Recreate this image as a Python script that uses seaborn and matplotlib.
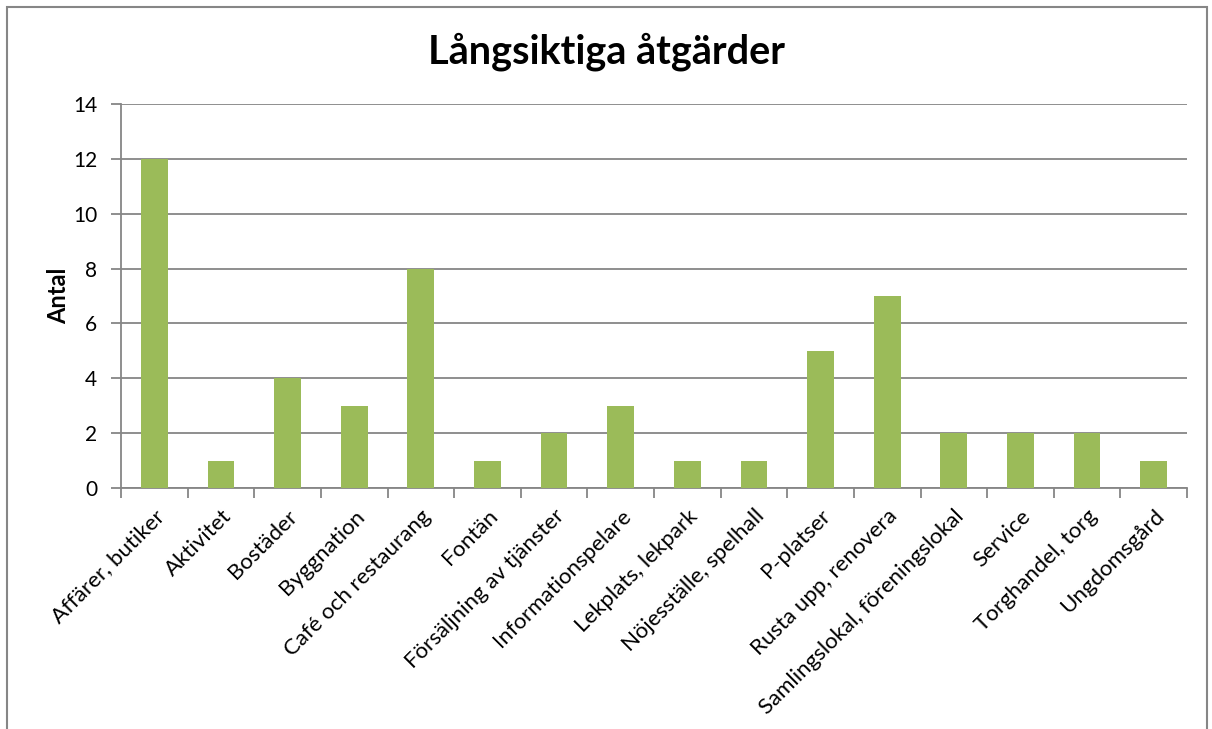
import matplotlib
matplotlib.use("Agg")
import matplotlib.pyplot as plt
import seaborn as sns
import pandas as pd
from matplotlib.patches import Rectangle

categories = ["Affärer, butiker", "Aktivitet", "Bostäder", "Byggnation",
              "Café och restaurang", "Fontän", "Försäljning av tjänster",
              "Informationspelare", "Lekplats, lekpark", "Nöjesställe, spelhall",
              "P-platser", "Rusta upp, renovera", "Samlingslokal, föreningslokal",
              "Service", "Torghandel, torg", "Ungdomsgård"]
values = [12, 1, 4, 3, 8, 1, 2, 3, 1, 1, 5, 7, 2, 2, 2, 1]
yticks = [0, 2, 4, 6, 8, 10, 12, 14]
title = "Långsiktiga åtgärder"
ylabel = "Antal"

df = pd.DataFrame({"cat": categories, "val": values})

sns.set_theme(style="white")
plt.rcParams["font.family"] = ["Lato", "DejaVu Sans"]

fig = plt.figure(figsize=(12.12, 7.29), dpi=100)
ax = fig.add_axes([121/1212, 1-488/729, (1187-121)/1212, (488-104)/729])

sns.barplot(data=df, x="cat", y="val", color="#9BBB59", saturation=1,
            width=0.4, ax=ax, zorder=3, edgecolor="none")

ax.set_ylim(0, 14)
ax.set_xlim(-0.5, len(categories) - 0.5)
ax.set_yticks(yticks)
ax.set_yticklabels([str(t) for t in yticks], fontsize=15, color="black")
ax.yaxis.grid(True, color="#868686", linewidth=1.3, zorder=0)
ax.set_axisbelow(True)

ax.set_xticks([i - 0.5 for i in range(len(categories) + 1)], minor=False)
ax.set_xticklabels([])
ax.set_xticks(range(len(categories)), minor=True)
ax.set_xticklabels(categories, minor=True, rotation=45, ha="right",
                   rotation_mode="anchor", fontsize=16, color="black")
ax.tick_params(axis="x", which="major", length=7, width=1.3, color="#868686", direction="out", bottom=True)
ax.tick_params(axis="x", which="minor", length=0, pad=13)
ax.tick_params(axis="y", length=7, width=1.3, color="#868686", direction="out", left=True, pad=10)

for s in ["top", "right"]:
    ax.spines[s].set_visible(False)
for s in ["left", "bottom"]:
    ax.spines[s].set_color("#868686")
    ax.spines[s].set_linewidth(1.3)

ax.set_xlabel("")
ax.set_ylabel(ylabel, fontsize=17, fontweight="bold", labelpad=2, color="black")

fig.text(0.5, 1 - 52/729, title, ha="center", va="center", fontsize=28.5,
         fontweight="bold", color="black")

fig.patches.append(Rectangle((7/1212, -0.05), (1207-7)/1212, 1.05 - 7/729,
                             transform=fig.transFigure, fill=False,
                             edgecolor="#868686", linewidth=1.5))

fig.savefig("out.png", dpi=100)
